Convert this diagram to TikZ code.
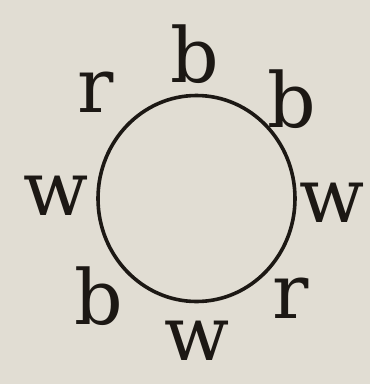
\documentclass[tikz,border=0pt]{standalone}
\usepackage{fontspec}
\newfontfamily\lblfont{DejaVu Serif}
\definecolor{paper}{RGB}{225,221,211}
\definecolor{ink}{RGB}{28,24,20}
\begin{document}
\begin{tikzpicture}[x=1pt,y=-1pt,
  lbl/.style={anchor=base,inner sep=0pt,outer sep=0pt,text=ink,font=\lblfont\fontsize{76}{76}\selectfont}]
\fill[paper] (0,0) rectangle (370,384);
\useasboundingbox (0,0) rectangle (370,384);
\draw[ink,line width=3.6pt] (196.5,198.5) ellipse [x radius=98.5pt, y radius=103pt];
\node[lbl] (t)  at (195,82)  {b};
\node[lbl] (tr) at (292,127) {b};
\node[lbl] (r)  at (332,222) {w};
\node[lbl] (br) at (291,318) {r};
\node[lbl] (b)  at (197.5,360) {w};
\node[lbl] (bl) at (99,324) {b};
\node[lbl] (l)  at (56,215) {w};
\node[lbl] (tl) at (96,112) {r};
\end{tikzpicture}
\end{document}
